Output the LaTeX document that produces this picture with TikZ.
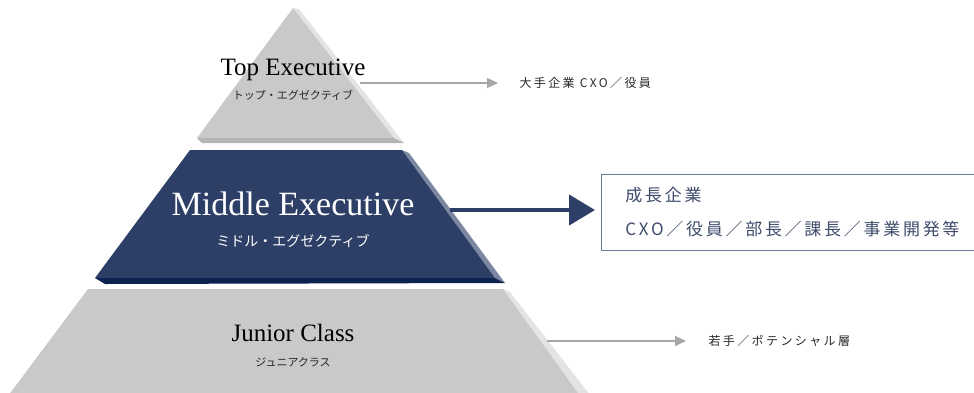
\documentclass[tikz,border=0pt]{standalone}
\usepackage{fontspec}
\setmainfont{Liberation Serif}
\newfontfamily\jpfont{Noto Sans CJK JP}
\newfontfamily\jpwide[LetterSpace=20]{Noto Sans CJK JP}
\newfontfamily\jpbox[LetterSpace=16]{Noto Sans CJK JP}
\usetikzlibrary{arrows.meta}

\definecolor{layergray}{HTML}{C9C9C9}
\definecolor{layerside}{HTML}{E4E4E4}
\definecolor{layerbase}{HTML}{B4B4B4}
\definecolor{navy}{HTML}{2D3F66}
\definecolor{navyside}{HTML}{7C88A2}
\definecolor{navybase}{HTML}{0B2150}
\definecolor{arrowgray}{HTML}{A7A7A7}
\definecolor{darktext}{HTML}{262626}
\definecolor{boxline}{HTML}{6D7A9A}
\definecolor{boxtext}{HTML}{3E4B6B}

\begin{document}
\begin{tikzpicture}[x=1pt,y=-1pt,
	title/.style={anchor=base,font=\fontsize{25}{25}\selectfont},
	kana/.style={font=\jpfont\fontsize{11}{11}\selectfont,text=darktext},
	target/.style={anchor=west,font=\jpwide\fontsize{12}{12}\selectfont,text=darktext},
	thinarrow/.style={draw=arrowgray,line width=1.1pt,-{Triangle[length=11pt,width=10pt]}},
	boldarrow/.style={draw=navy,line width=4.5pt,-{Triangle[length=26pt,width=30pt]}},
	growbox/.style={draw=boxline,line width=0.9pt,anchor=north west,text width=340pt,
		minimum height=76pt,inner xsep=24pt,align=left,text=boxtext,
		font=\jpbox\fontsize{17}{34}\selectfont}]
	\clip (0,0) rectangle (974,392);
	% top layer
	\fill[layerside] (293,8) -- (299,9) -- (404,143) -- (394,138) -- cycle;
	\fill[layerbase] (197,138) -- (394,138) -- (404,143) -- (202,143) -- cycle;
	\fill[layergray] (293,8) -- (394,138) -- (197,138) -- cycle;
	% middle layer
	\fill[navyside] (402,150) -- (409,153) -- (505,283) -- (495,278) -- cycle;
	\fill[navybase] (95,278) -- (495,278) -- (505,283) -- (105,284) -- cycle;
	\fill[navy] (190,150) -- (402,150) -- (495,278) -- (95,278) -- cycle;
	% bottom layer
	\fill[layerside] (503,289) -- (510,292) -- (594,400) -- (583,400) -- cycle;
	\fill[layergray] (88,289) -- (503,289) -- (583,400) -- (5,400) -- cycle;

	\node[title] (toptitle) at (293,75) {Top Executive};
	\node[kana] (topkana) at (293,95) {トップ・エグゼクティブ};
	\node[title,text=white,font=\fontsize{34}{34}\selectfont] (midtitle) at (293,215) {Middle Executive};
	\node[kana,text=white,font=\jpfont\fontsize{14}{14}\selectfont] (midkana) at (293,241) {ミドル・エグゼクティブ};
	\node[title] (juntitle) at (293,341) {Junior Class};
	\node[kana] (junkana) at (293,362) {ジュニアクラス};

	\coordinate (topfrom) at (360,83);
	\coordinate (midfrom) at (450,210);
	\coordinate (junfrom) at (547,341);
	\node[target] (toplabel) at (516,83) {大手企業 CXO／役員};
	\node[growbox] (growbox) at (601,174) {成長企業\\CXO／役員／部長／課長／事業開発等};
	\node[target] (junlabel) at (705,341) {若手／ポテンシャル層};

	\draw[thinarrow,shorten >=18pt] (topfrom) -- (toplabel.west);
	\draw[boldarrow,shorten >=6pt] (midfrom) -- (midfrom -| growbox.west);
	\draw[thinarrow,shorten >=19pt] (junfrom) -- (junlabel.west);
\end{tikzpicture}
\end{document}
